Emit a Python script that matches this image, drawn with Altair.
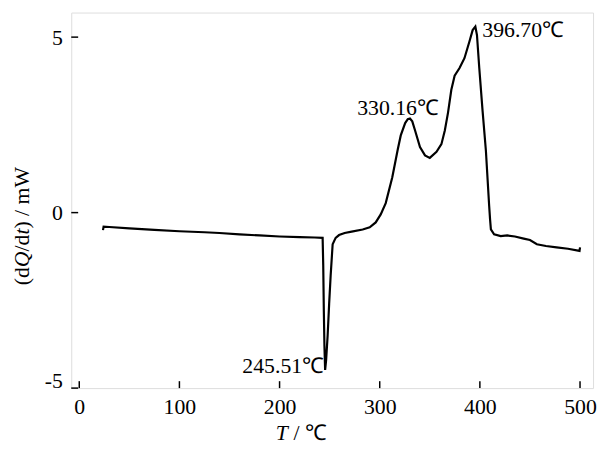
import altair as alt
import pandas as pd

# ---- data ----
temps = [23.7, 24.3, 30, 50, 75, 100, 125, 140, 160, 180, 200, 220, 235, 243.0,
         243.6, 244.2, 244.8, 245.5, 246.5, 248, 249.5, 251, 253, 256, 259.4, 265,
         272, 283, 290, 296, 301, 306, 312.5, 318, 321, 325.4, 328, 330.2, 332.5,
         335.3, 340.2, 345.2, 350, 356.7, 361.6, 365, 368.2, 371.5, 374.8, 379.7,
         384.6, 389.5, 392.8, 395.5, 397.1, 399.4, 402.7, 406, 409.3, 410.2, 411,
         414.2, 420.8, 427.3, 435, 443.8, 450, 456.9, 466, 476.6, 488, 499.5, 500]
heat_flow = [-0.50, -0.40, -0.41, -0.45, -0.49, -0.53, -0.56, -0.58, -0.62, -0.65,
             -0.68, -0.70, -0.71, -0.72, -1.5, -2.8, -3.8, -4.48, -4.2, -3.5, -2.6,
             -1.8, -0.9, -0.72, -0.64, -0.58, -0.54, -0.48, -0.42, -0.28, -0.05, 0.27,
             1.0, 1.8, 2.2, 2.55, 2.66, 2.68, 2.6, 2.34, 1.87, 1.63, 1.56, 1.73, 1.95,
             2.34, 2.85, 3.50, 3.90, 4.12, 4.40, 4.87, 5.20, 5.30, 5.06, 4.12, 2.90,
             1.77, 0.18, -0.2, -0.48, -0.62, -0.67, -0.65, -0.68, -0.74, -0.78, -0.90,
             -0.95, -0.99, -1.03, -1.09, -0.99]

peak_labels = ["245.51℃", "330.16℃", "396.70℃"]
peak_x = [245.5, 330.2, 395.5]
peak_y = [-4.48, 2.68, 5.30]

x_ticks = [0, 100, 200, 300, 400, 500]
y_ticks = [-5, 0, 5]
x_domain = [-8, 513]
y_domain = [-5, 5.7]

W, H = 528, 380
FONT = "Liberation Serif"
FS = 22

df = pd.DataFrame({"T": temps, "Q": heat_flow})
xs = alt.Scale(domain=x_domain, nice=False, zero=False)
ys = alt.Scale(domain=y_domain, nice=False, zero=False)

line = alt.Chart(df).mark_line(color="black", strokeWidth=2.2).encode(
    x=alt.X("T:Q", scale=xs,
            axis=alt.Axis(values=x_ticks, title=None, ticks=False, tickSize=0,
                          domain=False, grid=False, labelFont=FONT,
                          labelFontSize=FS, labelColor="black", labelPadding=9,
                          labelFlush=False, labelExpr="'' + datum.value")),
    y=alt.Y("Q:Q", scale=ys,
            axis=alt.Axis(values=y_ticks, title=None, ticks=False, tickSize=0,
                          domain=False, grid=False, labelFont=FONT,
                          labelFontSize=FS, labelColor="black", labelPadding=9,
                          labelFlush=True, labelFlushOffset=4,
                          labelExpr="'' + datum.value")),
)

xt = alt.Chart(pd.DataFrame({"v": x_ticks})).mark_rule(color="black", strokeWidth=1.5).encode(
    x=alt.X("v:Q", scale=xs), y=alt.value(H), y2=alt.value(H - 7))
yt = alt.Chart(pd.DataFrame({"v": y_ticks})).mark_rule(color="black", strokeWidth=1.5).encode(
    y=alt.Y("v:Q", scale=ys), x=alt.value(0), x2=alt.value(7))

pk = pd.DataFrame({"lab": peak_labels, "x": peak_x, "y": peak_y})


def ann(i, align, dx, dy):
    return alt.Chart(pk.iloc[[i]]).mark_text(
        font=FONT, fontSize=FS, color="black", align=align,
        baseline="alphabetic", dx=dx, dy=dy).encode(
        x=alt.X("x:Q", scale=xs), y=alt.Y("y:Q", scale=ys), text="lab:N")


a1 = ann(0, "right", -1, 3.5)
a2 = ann(1, "center", -12, -4)
a3 = ann(2, "left", 7, 11)


def label(txt, px, py, italic=False, angle=0):
    kw = dict(font=FONT, fontSize=FS, color="black", align="left",
              baseline="alphabetic", fontStyle="italic" if italic else "normal")
    if angle:
        kw["angle"] = angle
    return alt.Chart(pd.DataFrame({"s": [txt]})).mark_text(**kw).encode(
        x=alt.value(px), y=alt.value(py), text="s:N")


xtitle = [label("T", 207, 433, True), label("/ ℃", 225, 433)]
ytitle = [
    label("(d", -43, 276, False, 270),
    label("Q", -43, 257.7, True, 270),
    label("/d", -43, 241.8, False, 270),
    label("t", -43, 224.7, True, 270),
    label(") / mW", -43, 218.6, False, 270),
]

chart = alt.layer(line, xt, yt, a1, a2, a3, *xtitle, *ytitle).properties(
    width=W, height=H,
    autosize=alt.AutoSizeParams(type="none"),
    padding={"left": 64, "top": 2, "right": 4, "bottom": 58},
).configure_view(stroke="black", strokeWidth=1.6).configure(background="white")

chart.save("out.html", embed_options={"renderer": "svg", "actions": False})
